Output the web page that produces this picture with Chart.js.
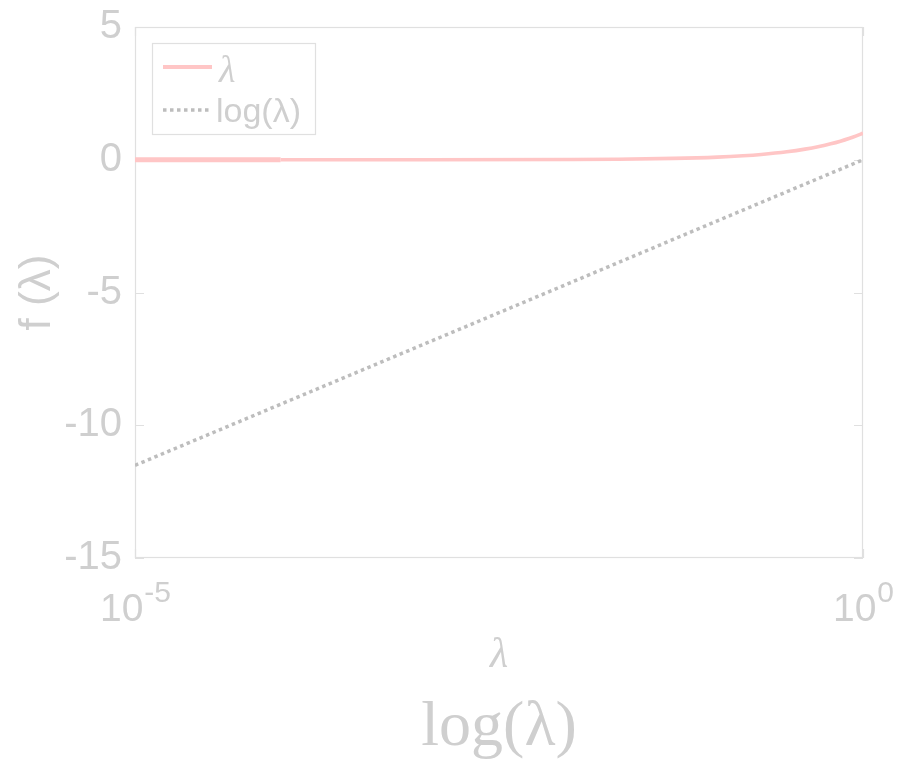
<!DOCTYPE html>
<html>
<head>
<meta charset="utf-8">
<script src="https://cdn.jsdelivr.net/npm/chart.js@4.4.1/dist/chart.umd.min.js"></script>
<style>
  html, body { margin: 0; padding: 0; background: #ffffff; }
  #wrap { width: 910px; height: 764px; }
</style>
</head>
<body>
<div id="wrap"><canvas id="c" width="910" height="764"></canvas></div>
<script>
// f(λ) = λ, sampled on a log-spaced grid
const lambdaX = [1e-5, 1e-4, 1e-3, 1e-2, 0.02, 0.05, 0.1, 0.15, 0.2, 0.3, 0.4, 0.5, 0.6, 0.7, 0.8, 0.9, 1];
const lambdaY = [0.00001, 0.0001, 0.001, 0.01, 0.02, 0.05, 0.1, 0.15, 0.2, 0.3, 0.4, 0.5, 0.6, 0.7, 0.8, 0.9, 1.0];

// f(λ) = log(λ)
const logX = [1e-5, 1e-4, 1e-3, 1e-2, 1e-1, 1];
const logY = [-11.51, -9.21, -6.91, -4.61, -2.30, 0];

const seriesLabels = ['λ', 'log(λ)'];

// axis ticks
const yTicks = [5, 0, -5, -10, -15];
const xTickValues = [1e-5, 1];
const xTickBase = ['10', '10'];
const xTickExponents = ['-5', '0'];

const xTitle = 'λ';
const yTitle = 'f (λ)';
const caption = 'log(λ)';

const TEXT = '#cfcfcf';
const FRAME = '#e0e0e0';
const PINK = '#ffc6c6';
const GREY = '#bdbdbd';
const SANS = '"Liberation Sans", Arial, Helvetica, sans-serif';
const SERIF = '"Liberation Serif", "DejaVu Serif", serif';

const toPoints = (xs, ys) => xs.map((x, i) => ({ x: x, y: ys[i] }));

// frame, inward ticks, superscript x labels, caption and boxed legend
const decorations = {
  id: 'decorations',
  beforeDatasetsDraw(chart) {
    const { ctx, chartArea: a, scales } = chart;
    ctx.save();
    ctx.strokeStyle = FRAME;
    ctx.lineWidth = 1.2;
    ctx.strokeRect(a.left + 0.5, a.top + 0.5, a.right - a.left - 1, a.bottom - a.top - 1);
    ctx.beginPath();
    yTicks.forEach(v => {
      const py = Math.round(scales.y.getPixelForValue(v)) + 0.5;
      ctx.moveTo(a.left, py); ctx.lineTo(a.left + 9, py);
      ctx.moveTo(a.right, py); ctx.lineTo(a.right - 9, py);
    });
    xTickValues.forEach(v => {
      const px = Math.round(scales.x.getPixelForValue(v)) + 0.5;
      ctx.moveTo(px, a.bottom); ctx.lineTo(px, a.bottom - 9);
      ctx.moveTo(px, a.top); ctx.lineTo(px, a.top + 9);
    });
    ctx.stroke();
    ctx.restore();
  },
  afterDraw(chart) {
    const { ctx, chartArea: a, scales } = chart;
    ctx.save();
    ctx.fillStyle = TEXT;
    ctx.textBaseline = 'alphabetic';

    // x tick labels with superscript exponents
    xTickValues.forEach((v, i) => {
      const px = scales.x.getPixelForValue(v);
      ctx.font = '39px ' + SANS;
      const wb = ctx.measureText(xTickBase[i]).width;
      ctx.font = '30px ' + SANS;
      const we = ctx.measureText(xTickExponents[i]).width;
      const x0 = px - (wb + we) / 2;
      ctx.font = '39px ' + SANS;
      ctx.textAlign = 'left';
      ctx.fillText(xTickBase[i], x0, 621);
      ctx.font = '30px ' + SANS;
      ctx.fillText(xTickExponents[i], x0 + wb + 1, 602);
    });

    // caption under the axis title
    ctx.font = '64px ' + SERIF;
    ctx.textAlign = 'center';
    ctx.fillText(caption, (a.left + a.right) / 2, 745);

    // legend box
    const bx = a.left + 17, by = a.top + 16, bw = 163, bh = 91;
    ctx.fillStyle = '#ffffff';
    ctx.fillRect(bx, by, bw, bh);
    ctx.strokeStyle = FRAME;
    ctx.lineWidth = 1.2;
    ctx.strokeRect(bx + 0.5, by + 0.5, bw, bh);

    const rows = [
      { lineY: by + 24, textY: by + 39 },
      { lineY: by + 67, textY: by + 79 }
    ];
    chart.data.datasets.forEach((ds, i) => {
      const r = rows[i];
      ctx.beginPath();
      ctx.strokeStyle = ds.borderColor;
      ctx.lineWidth = i === 0 ? 4 : 3.5;
      ctx.setLineDash(ds.borderDash || []);
      ctx.moveTo(bx + 11, r.lineY);
      ctx.lineTo(bx + 60, r.lineY);
      ctx.stroke();
      ctx.setLineDash([]);
      ctx.fillStyle = TEXT;
      ctx.textAlign = 'left';
      if (i === 0) {
        ctx.font = 'italic 38px ' + SERIF;
        ctx.fillText(ds.label, bx + 67, r.textY);
      } else {
        ctx.font = '34px ' + SANS;
        ctx.fillText(ds.label, bx + 64, r.textY);
      }
    });
    ctx.restore();
  }
};

new Chart(document.getElementById('c'), {
  type: 'line',
  data: {
    datasets: [
      {
        label: seriesLabels[0],
        data: toPoints(lambdaX, lambdaY),
        borderColor: PINK,
        borderWidth: 3.6,
        pointRadius: 0,
        cubicInterpolationMode: 'monotone',
        segment: { borderWidth: ctx => (ctx.p0DataIndex === 0 ? 5.2 : 3.6) }
      },
      {
        label: seriesLabels[1],
        data: toPoints(logX, logY),
        borderColor: GREY,
        borderWidth: 3.5,
        borderDash: [3.5, 3.5],
        pointRadius: 0,
        tension: 0
      }
    ]
  },
  options: {
    responsive: false,
    animation: false,
    devicePixelRatio: 1,
    layout: { padding: { left: 0, top: 27, right: 47, bottom: 73 } },
    plugins: { legend: { display: false }, tooltip: { enabled: false }, title: { display: false } },
    scales: {
      x: {
        type: 'logarithmic',
        min: 1e-5,
        max: 1,
        grid: { display: false },
        border: { display: false },
        ticks: { display: false },
        afterBuildTicks: s => { s.ticks = xTickValues.map(v => ({ value: v })); },
        afterFit: s => { s.height = 133; },
        title: {
          display: true,
          text: xTitle,
          color: TEXT,
          font: { family: SERIF, size: 42, style: 'italic', lineHeight: 1 },
          padding: { top: 0, bottom: 14 }
        }
      },
      y: {
        min: -15,
        max: 5,
        grid: { display: false, drawTicks: false },
        border: { display: false },
        afterBuildTicks: s => { s.ticks = yTicks.map(v => ({ value: v })); },
        afterFit: s => { s.width = 135; },
        ticks: {
          color: TEXT,
          padding: 13,
          font: { family: SANS, size: 40, lineHeight: 0.5 }
        },
        title: {
          display: true,
          text: yTitle,
          color: TEXT,
          font: { family: SANS, size: 44, lineHeight: 1.2 },
          padding: { top: 11, bottom: 0 }
        }
      }
    }
  },
  plugins: [decorations]
});
</script>
</body>
</html>
